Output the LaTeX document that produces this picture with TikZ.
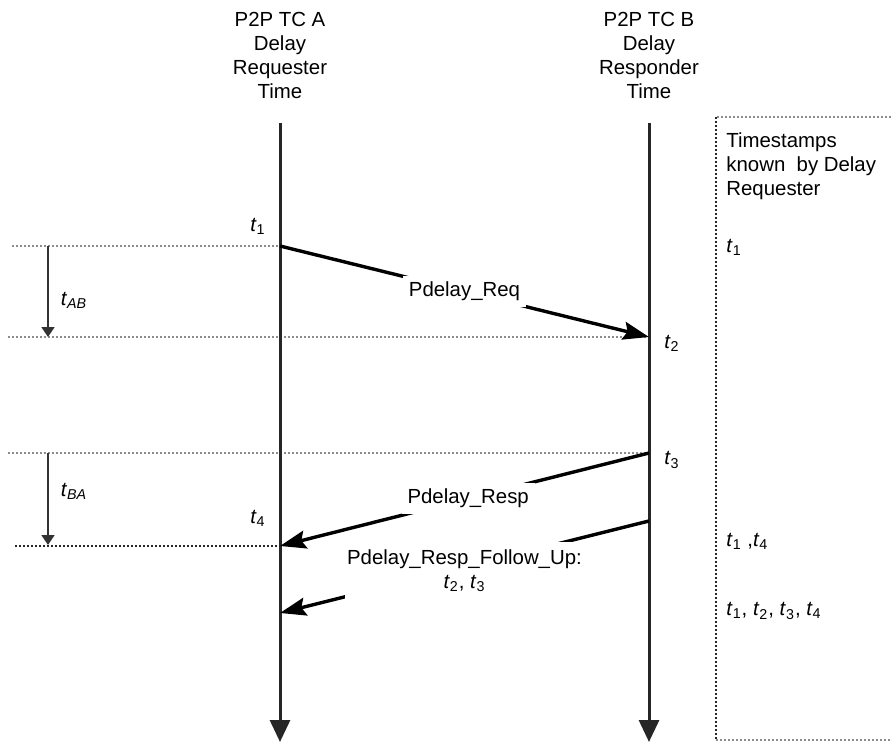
\documentclass[tikz,border=0pt]{standalone}
\usepackage{fontspec}
\setmainfont{Liberation Sans}
\usetikzlibrary{arrows.meta}
\newcommand{\tm}[1]{\textit{t}\textsubscript{#1}}
\tikzset{msg/.style={-{Stealth[length=13pt,width=9pt,inset=2pt]},line width=1.7pt},
         life/.style={-{Triangle[length=11pt,width=10pt]},line width=1.5pt,black!85},
         span/.style={-{Triangle[length=5pt,width=6.5pt]},line width=.8pt,black!80},
         level/.style={densely dotted,line width=1pt,black!45},
         txt/.style={font=\fontsize{10.2pt}{12pt}\selectfont,align=center,inner sep=1pt,text=black}}

\begin{document}
\begin{tikzpicture}[x=.5pt,y=-.5pt]
  \useasboundingbox (0,0) rectangle (891,744);
  % clocks of the two transparent clocks
  \node[txt] (hA) at (280,55) {P2P TC A\\Delay\\Requester\\Time};
  \node[txt] (hB) at (649,55) {P2P TC B\\Delay\\Responder\\Time};
  \coordinate (A0) at (280,123); \coordinate (Aend) at (280,742);
  \coordinate (B0) at (649,123); \coordinate (Bend) at (649,742);
  \coordinate (A1) at (280,246); \coordinate (B1) at (649,337);
  \coordinate (B2) at (649,453); \coordinate (A2) at (280,546);
  \coordinate (B3) at (649,521); \coordinate (A3) at (280,613);
  \coordinate (L1) at (12,246); \coordinate (L2) at (8,337);
  \coordinate (L3) at (8,453);  \coordinate (L4) at (15,546);
  \draw[level] (L1) -- (A1);
  \draw[level] (L2) -- (B1);
  \draw[level] (L3) -- (B2);
  \draw[level,black!85] (L4) -- (A2);
  \draw[life] (A0) -- (Aend);
  \draw[life] (B0) -- (Bend);
  % delays
  \coordinate (s1) at (48,246); \coordinate (s2) at (48,337);
  \coordinate (s3) at (48,453); \coordinate (s4) at (48,545);
  \draw[span] (s1) -- node[txt,right=5pt,pos=.6]{\tm{\textit{AB}}} (s2);
  \draw[span] (s3) -- node[txt,right=5pt,pos=.42]{\tm{\textit{BA}}} (s4);
  % messages
  \draw[msg] (A1) -- node[txt,fill=white,inner sep=3pt]{Pdelay\_Req} (B1);
  \draw[msg] (B2) -- node[txt,fill=white,inner sep=3pt,pos=.49]{Pdelay\_Resp} (A2);
  \draw[msg] (B3) -- node[txt,fill=white,inner xsep=1pt,inner ysep=4pt,pos=.5,yshift=-2pt]
    {Pdelay\_Resp\_Follow\_Up:\\\tm{2}, \tm{3}} (A3);
  \node[txt] (t1) at (258,226) {\tm{1}};
  \node[txt] (t2) at (672,343) {\tm{2}};
  \node[txt] (t3) at (672,460) {\tm{3}};
  \node[txt] (t4) at (258,518) {\tm{4}};
  % timestamps known by requester
  \coordinate (k0) at (891,117); \coordinate (k1) at (716,117);
  \coordinate (k2) at (716,740); \coordinate (k3) at (891,740);
  \draw[level] (k0) -- (k1);
  \draw[level] (k2) -- (k3);
  \draw[densely dotted,line width=1pt,black!85] (k1) -- (k2);
  \node[txt,align=left,anchor=north west] (known) at (724,130)
    {Timestamps\\known\ \ by Delay\\Requester};
  \node[txt,anchor=west] (kt1) at (724,247) {\tm{1}};
  \node[txt,anchor=west] (kt2) at (724,541) {\tm{1} ,\tm{4}};
  \node[txt,anchor=west] (kt3) at (724,611) {\tm{1}, \tm{2}, \tm{3}, \tm{4}};
\end{tikzpicture}
\end{document}
